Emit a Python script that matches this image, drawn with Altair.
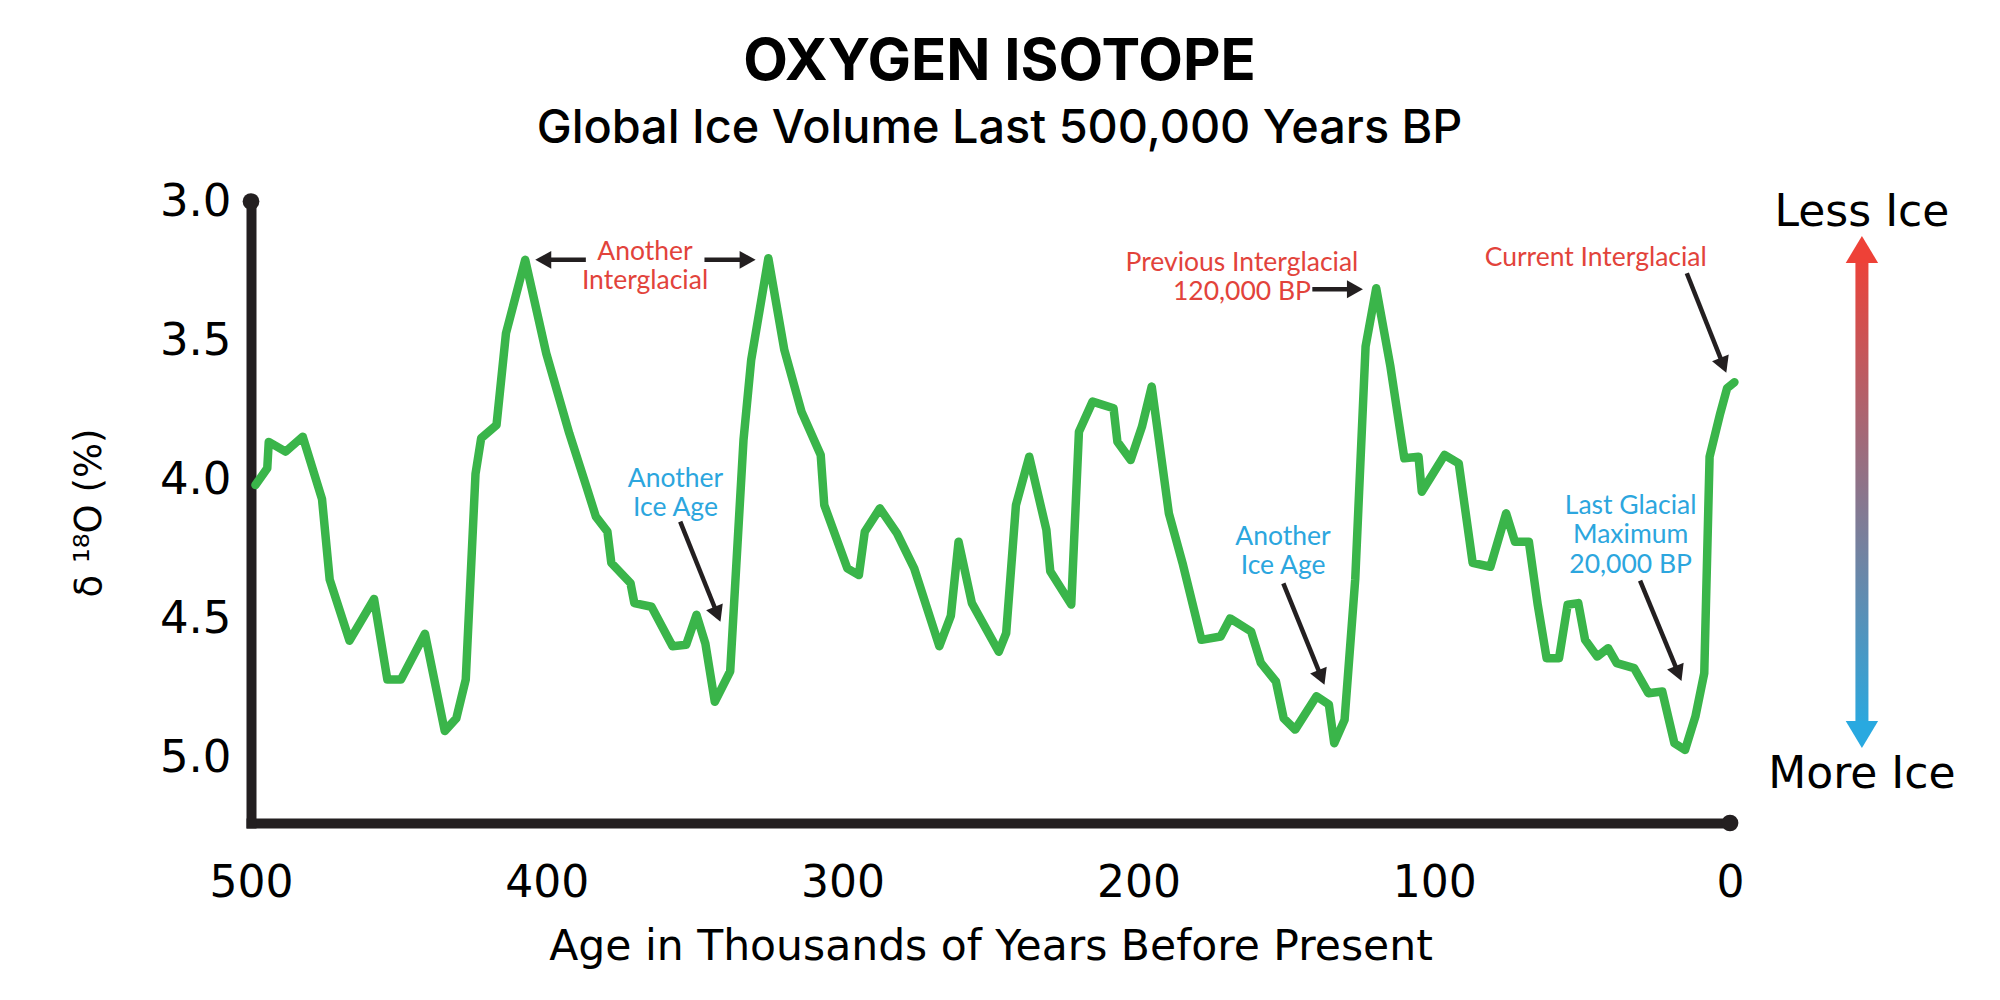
import math
import altair as alt
import pandas as pd

# ---------------- data ----------------
age_kyr = [498.5, 494.5, 494.0, 488.3, 482.5, 476.0, 473.4, 466.7, 458.4, 453.9,
           449.3, 441.2, 434.5, 430.6, 427.4, 424.1, 422.2, 417.0, 413.8, 407.3,
           400.2, 392.4, 386.6, 383.4, 379.5, 378.2, 371.7, 370.4, 364.6, 357.5,
           352.9, 349.4, 346.4, 343.2, 338.0, 333.5, 330.9, 325.1, 319.7, 313.9,
           307.4, 306.2, 298.4, 294.5, 292.5, 287.4, 281.6, 275.8, 267.3, 263.4,
           260.8, 256.3, 247.2, 244.7, 241.4, 236.9, 231.1, 229.8, 222.7, 220.1,
           215.5, 208.4, 207.1, 202.6, 198.8, 195.5, 189.7, 185.1, 178.7, 172.2,
           169.0, 161.9, 158.6, 153.5, 150.9, 147.0, 139.8, 135.6, 133.8, 130.3,
           126.7, 123.2, 119.6, 114.8, 110.1, 105.3, 104.2, 96.5, 91.7, 87.0,
           81.0, 75.7, 72.7, 68.0, 65.0, 62.0, 57.8, 54.9, 51.3, 49.0,
           44.9, 41.2, 38.3, 32.4, 27.6, 22.9, 18.8, 15.2, 11.7, 8.7,
           6.9, 3.3, 1.0, -1.5]
d18o = [4.02, 3.96, 3.865, 3.90, 3.846, 4.07, 4.36, 4.58, 4.43, 4.72,
        4.72, 4.555, 4.905, 4.86, 4.72, 3.98, 3.852, 3.804, 3.474, 3.21,
        3.546, 3.834, 4.026, 4.134, 4.188, 4.30, 4.373, 4.445, 4.458, 4.60,
        4.595, 4.487, 4.59, 4.80, 4.69, 3.858, 3.57, 3.204, 3.534, 3.756,
        3.912, 4.092, 4.32, 4.344, 4.188, 4.104, 4.194, 4.32, 4.60, 4.49,
        4.224, 4.445, 4.62, 4.553, 4.092, 3.918, 4.182, 4.33, 4.45, 3.828,
        3.72, 3.744, 3.864, 3.93, 3.81, 3.666, 4.122, 4.30, 4.577, 4.565,
        4.50, 4.547, 4.66, 4.727, 4.859, 4.90, 4.78, 4.81, 4.949, 4.865,
        4.36, 3.522, 3.312, 3.594, 3.924, 3.918, 4.044, 3.912, 3.942, 4.30,
        4.314, 4.122, 4.224, 4.224, 4.451, 4.643, 4.643, 4.451, 4.445, 4.577,
        4.637, 4.607, 4.661, 4.679, 4.769, 4.763, 4.949, 4.973, 4.853, 4.697,
        3.918, 3.762, 3.672, 3.65]

tick_ages = [500, 400, 300, 200, 100, 0]
tick_d18o = [3.0, 3.5, 4.0, 4.5, 5.0]

# annotation labels (position = centre of the text block)
ann_text = ["Another\nInterglacial", "Another\nIce Age",
            "Previous Interglacial\n120,000 BP", "Current Interglacial",
            "Another\nIce Age", "Last Glacial\nMaximum\n20,000 BP"]
ann_age = [366.8, 356.5, 165.0, 45.4, 151.1, 33.6]
ann_val = [3.233, 4.051, 3.274, 3.205, 4.260, 4.201]
ann_kind = ["warm", "cold", "warm", "warm", "cold", "cold"]

# annotation arrows (tail -> tip)
arrow_tail_age = [386.8, 346.7, 141.2, 14.6, 354.9, 151.0, 30.4]
arrow_tail_val = [3.210, 3.210, 3.316, 3.258, 4.152, 4.374, 4.364]
arrow_tip_age = [403.9, 329.4, 124.1, 1.25, 341.3, 137.1, 16.4]
arrow_tip_val = [3.210, 3.210, 3.316, 3.616, 4.512, 4.739, 4.725]

# side legend (less ice / more ice)
side_age = -44.6
side_labels = ["Less Ice", "More Ice"]
side_label_val = [3.043, 5.065]
side_bar_age = [-42.4, -46.8]
side_bar_val = [3.192, 4.898]
side_head_val = [3.124, 4.966]
side_head_angle = [0, 180]
side_head_kind = ["warm", "cold"]

# ---------------- styling ----------------
GREEN = "#3AB54A"
DARK = "#231F20"
RED = "#E2433B"
BLUE = "#2CA6DE"
ARROW_RED = "#EE4137"
ARROW_BLUE = "#29A9E0"

W, H = 1479, 621.5
AGE_MIN, AGE_MAX = 0, 500
V_TOP, V_BOT = 3.0, 5.236
PX_X = W / (AGE_MAX - AGE_MIN)
PX_Y = H / (V_BOT - V_TOP)

ANN_FS = 26.5
ANN_LH = 29.5

HEAD = "M0,0L-0.56,1L0.56,1Z"
HEAD_BIG = "M0,0L-0.6,1L0.6,1Z"

xscale = alt.Scale(domain=[AGE_MIN, AGE_MAX], reverse=True, nice=False, zero=False)
yscale = alt.Scale(domain=[V_TOP, V_BOT], reverse=True, nice=False, zero=False)

AXFONT = "DejaVu Sans"

xaxis = alt.Axis(values=tick_ages, format="d",
                 title="Age in Thousands of Years Before Present",
                 domain=True, domainColor=DARK, domainWidth=10, domainCap="square",
                 ticks=False, tickSize=0, grid=False,
                 labelFont=AXFONT, labelFontSize=44, labelColor="black",
                 labelPadding=38, labelFlush=False, labelOverlap=False, labelBound=False,
                 titleFont=AXFONT, titleFontSize=42.5, titleFontWeight="normal",
                 titleColor="black", titleY=136, titleBaseline="alphabetic")
yaxis = alt.Axis(values=tick_d18o, format=".1f", title="δ ¹⁸O (%)",
                 domain=True, domainColor=DARK, domainWidth=10, domainCap="square",
                 ticks=False, tickSize=0, grid=False,
                 labelFont=AXFONT, labelFontSize=45, labelColor="black",
                 labelPadding=20, labelFlush=False, labelOverlap=False, labelBound=False,
                 titleFont=AXFONT, titleFontSize=37, titleFontWeight="normal",
                 titleColor="black", titleAngle=270, titleX=-162, titleY=311,
                 titleBaseline="middle", titleAlign="center")


def X(field, axis=alt.Undefined):
    return alt.X(field, type="quantitative", scale=xscale, axis=axis)


def Y(field, axis=alt.Undefined):
    return alt.Y(field, type="quantitative", scale=yscale, axis=axis)


# ---------------- layers ----------------
line_df = pd.DataFrame({"age": age_kyr, "d18o": d18o})
line = alt.Chart(line_df).mark_line(
    color=GREEN, strokeWidth=8.5, strokeJoin="round", strokeCap="round", clip=False
).encode(x=X("age", xaxis), y=Y("d18o", yaxis))

dots_df = pd.DataFrame({"age": [AGE_MAX, AGE_MIN], "d18o": [V_TOP, V_BOT]})
dots = alt.Chart(dots_df).mark_point(
    filled=True, size=280, color=DARK, opacity=1, clip=False
).encode(x=X("age"), y=Y("d18o"))

# Vega places the first line of a multi-line text at y, so shift up to centre the block
first_line_val = [v - (t.count("\n") * ANN_LH / 2) / PX_Y for t, v in zip(ann_text, ann_val)]
color_scale = alt.Scale(domain=["warm", "cold"], range=[RED, BLUE])
ann_df = pd.DataFrame({"age": ann_age, "d18o": first_line_val, "label": ann_text,
                       "kind": ann_kind})
ann = alt.Chart(ann_df).mark_text(
    font="Lato", fontSize=ANN_FS, lineHeight=ANN_LH, align="center", baseline="middle",
    lineBreak="\n", clip=False
).encode(x=X("age"), y=Y("d18o"), text="label:N",
         color=alt.Color("kind:N", scale=color_scale, legend=None))

# arrows: shaft stops short of the tip, head is a custom triangle whose tip is at the point
shaft_rows, head_rows = [], []
for ta, tv, pa, pv in zip(arrow_tail_age, arrow_tail_val, arrow_tip_age, arrow_tip_val):
    dx = (ta - pa) * PX_X
    dy = (pv - tv) * PX_Y
    L = math.hypot(dx, dy)
    ux, uy = dx / L, dy / L
    ang = math.degrees(math.atan2(ux, -uy)) % 360
    end_age = pa + 10 * ux / PX_X
    end_val = pv - 10 * uy / PX_Y
    shaft_rows.append({"age": ta, "d18o": tv, "age2": end_age, "d18o2": end_val})
    head_rows.append({"age": pa, "d18o": pv, "angle": ang})

shafts = alt.Chart(pd.DataFrame(shaft_rows)).mark_rule(
    color=DARK, strokeWidth=4.5, clip=False
).encode(x=X("age"), y=Y("d18o"), x2="age2:Q", y2="d18o2:Q")

heads = alt.Chart(pd.DataFrame(head_rows)).mark_point(
    shape=HEAD, filled=True, size=1024, color=DARK, opacity=1, clip=False
).encode(x=X("age"), y=Y("d18o"), angle=alt.Angle("angle:Q", scale=None))

# side gradient arrow
grad = alt.Gradient(
    gradient="linear",
    stops=[alt.GradientStop(color=ARROW_RED, offset=0),
           alt.GradientStop(color=ARROW_BLUE, offset=1)],
    x1=0, y1=0, x2=0, y2=1,
)
bar_df = pd.DataFrame({"age": [side_bar_age[0]], "age2": [side_bar_age[1]],
                       "d18o": [side_bar_val[0]], "d18o2": [side_bar_val[1]]})
side_bar = alt.Chart(bar_df).mark_rect(fill=grad, clip=False).encode(
    x=X("age"), x2="age2:Q", y=Y("d18o"), y2="d18o2:Q")

side_head_df = pd.DataFrame({"age": [side_age, side_age], "d18o": side_head_val,
                             "angle": side_head_angle, "kind": side_head_kind})
side_heads = alt.Chart(side_head_df).mark_point(
    shape=HEAD_BIG, filled=True, size=2916, opacity=1, clip=False
).encode(x=X("age"), y=Y("d18o"), angle=alt.Angle("angle:Q", scale=None),
         color=alt.Color("kind:N", scale=alt.Scale(domain=["warm", "cold"],
                                                    range=[ARROW_RED, ARROW_BLUE]),
                         legend=None))

side_text_df = pd.DataFrame({"age": [side_age, side_age], "d18o": side_label_val,
                             "label": side_labels})
side_text = alt.Chart(side_text_df).mark_text(
    font=AXFONT, fontSize=44, align="center", baseline="middle", color="black", clip=False
).encode(x=X("age"), y=Y("d18o"), text="label:N")

chart = alt.layer(
    line, dots, shafts, heads, ann, side_bar, side_heads, side_text
).resolve_scale(color="independent").properties(
    width=W, height=H,
    autosize=alt.AutoSizeParams(type="none"),
    padding={"left": 251, "top": 201.5, "right": 270, "bottom": 177},
    title=alt.TitleParams(
        text="OXYGEN ISOTOPE",
        subtitle="Global Ice Volume Last 500,000 Years BP",
        font="Inter", fontSize=58, fontWeight=700, color="black",
        subtitleFont="Inter", subtitleFontSize=46.8, subtitleFontWeight=500,
        subtitleColor="black", subtitlePadding=14,
        anchor="middle", frame="group", offset=27, dx=9,
    ),
).configure(background="white").configure_view(stroke="transparent", strokeWidth=0)

chart.save("out.html", embed_options={"renderer": "svg", "actions": False})
